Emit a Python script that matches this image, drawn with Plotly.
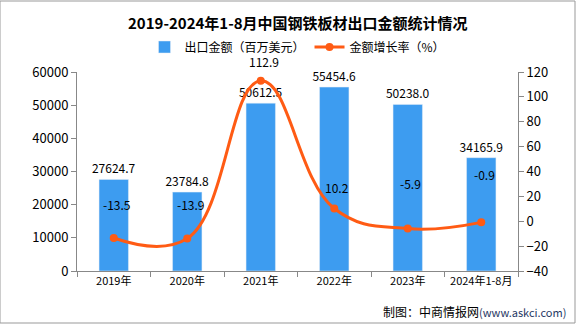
import plotly.graph_objects as go

categories = ["2019年", "2020年", "2021年", "2022年", "2023年", "2024年1-8月"]
export_value = [27624.7, 23784.8, 50612.5, 55454.6, 50238.0, 34165.9]
growth_rate = [-13.5, -13.9, 112.9, 10.2, -5.9, -0.9]
rate_label_shift = [34, 34, 19, 21, 45, 48]

FONT = "Noto Sans CJK SC"
fig = go.Figure()
fig.add_trace(go.Bar(
    x=categories, y=export_value, name="出口金额（百万美元）",
    marker=dict(color="#3D9CF0"), width=0.4,
    text=[f"{v:.1f}" for v in export_value], textposition="outside",
    constraintext="none",
    textfont=dict(size=12, color="#000", family=FONT), cliponaxis=False,
))
fig.add_trace(go.Scatter(
    x=categories, y=growth_rate, name="金额增长率（%）", yaxis="y2",
    mode="lines+markers", line=dict(color="#FF5B14", width=3, shape="spline", smoothing=1.2),
    marker=dict(size=8, color="#FF5B14"),
))
for c, r, s in zip(categories, growth_rate, rate_label_shift):
    fig.add_annotation(x=c, y=r, yref="y2", text=f"{r}", showarrow=False,
                       yshift=s, xshift=3, font=dict(size=12, color="#000", family=FONT))

fig.add_annotation(xref="paper", yref="paper", x=0.5, y=1 + 50/199, xanchor="center", yanchor="middle",
                   text="<b>2019-2024年1-8月中国钢铁板材出口金额统计情况</b>",
                   showarrow=False, font=dict(size=15, color="#000", family=FONT))
fig.add_annotation(xref="paper", yref="paper", x=1 + 50/441, y=-40/199, xanchor="right", yanchor="middle",
                   text="制图：中商情报网<span style='font-size:11px;color:#1F3864'>(www.askci.com)</span>",
                   showarrow=False, font=dict(size=12, color="#000", family=FONT))

fig.update_layout(
    width=576, height=324,
    margin=dict(l=77, r=58, t=72, b=53),
    paper_bgcolor="white", plot_bgcolor="white",
    font=dict(family=FONT, size=12, color="#000"),
    showlegend=True,
    legend=dict(orientation="h", x=0.5, xanchor="center", y=1 + 25/199, yanchor="middle",
                font=dict(size=12), traceorder="normal"),
    xaxis=dict(showline=True, linecolor="#888", ticks="outside", tickson="boundaries",
               ticklen=5, tickcolor="#888", tickfont=dict(size=11), tickangle=0, automargin=False),
    yaxis=dict(range=[0, 60000], dtick=10000, tickformat="d", showgrid=False, showline=True, linecolor="#888",
               ticks="outside", ticklen=5, tickcolor="#888", tickfont=dict(size=13), zeroline=False,
               automargin=False),
    yaxis2=dict(range=[-40, 120], dtick=20, overlaying="y", side="right", showgrid=False,
                showline=True, linecolor="#888", ticks="outside", ticklen=5, tickcolor="#888",
                tickfont=dict(size=13), zeroline=False, automargin=False),
    shapes=[dict(type="rect", xref="paper", yref="paper", x0=-77/441, x1=1 + 57/441,
                 y0=-52/199, y1=1 + 71/199, line=dict(color="#999", width=1))],
)
fig.write_html("out.html")
